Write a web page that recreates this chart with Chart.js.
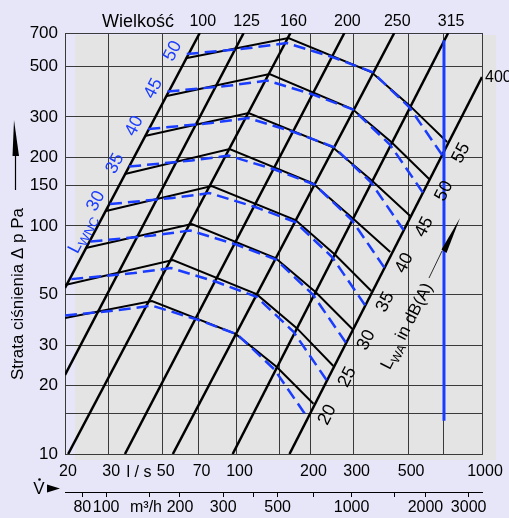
<!DOCTYPE html>
<html>
<head>
<meta charset="utf-8">
<script src="https://cdn.jsdelivr.net/npm/chart.js@4.4.1/dist/chart.umd.min.js"></script>
<style>
  html, body { margin: 0; padding: 0; background: #e6e6f8; }
  canvas { display: block; }
</style>
</head>
<body>
<canvas id="nomogram" width="509" height="518"></canvas>
<script>
// duct sizes ("Wielkość"): straight pressure-loss lines, [V in l/s, Δp in Pa]
const sizeLabels = ["100", "125", "160", "200", "250", "315", "400"];
const size100 = [[20, 53.4], [70.8, 700]];
const size125 = [[20, 22.2], [106.9, 700]];
const size160 = [[20.6, 10], [165.8, 700]];
const size200 = [[35.1, 10], [275, 700]];
const size250 = [[55, 10], [439, 700]];
const size315 = [[96.4, 10], [728, 700]];
const size400 = [[164.3, 10], [1000, 449]];
const sizeLines = [size100, size125, size160, size200, size250, size315, size400];

// sound power L_WA in dB(A) (black solid)
const lwaLevels = ["55", "50", "45", "40", "35", "30", "25", "20"];
const lwa55 = [[62.1, 543], [162.8, 665], [354, 472], [505, 338], [721, 233]];
const lwa50 = [[52.0, 370.5], [136.3, 462.6], [296.4, 324.9], [427, 233], [614.8, 158.7]];
const lwa45 = [[42.3, 247.5], [112, 312], [245.8, 221.5], [357.4, 157.2], [510, 110.4]];
const lwa40 = [[35.1, 168.6], [93.7, 217], [203.8, 154], [296.4, 108.2], [423, 76.8]];
const lwa35 = [[29.4, 116.1], [79.2, 149.4], [173.8, 106], [252.8, 74.5], [354, 51.8]];
const lwa30 = [[24.3, 79.9], [65.7, 101.8], [144.1, 72.2], [209.7, 51.3], [296.4, 35.3]];
const lwa25 = [[20, 55], [55, 70.8], [120.6, 50.2], [175.5, 35.7], [248, 24.3]];
const lwa20 = [[20, 39.4], [45.2, 46.8], [99.1, 33.6], [145.5, 24.1], [205.7, 16.6]];
const lwaCurves = [lwa55, lwa50, lwa45, lwa40, lwa35, lwa30, lwa25, lwa20];

// L_WNC (blue dashed), only the top five are labelled
const lwncLabels = ["50", "45", "40", "35", "30"];
const lwnc50 = [[62.7, 565.8], [113, 601.4], [159.8, 632.4], [245.8, 549], [357.4, 472], [505, 331.6], [688, 204.3]];
const lwnc45 = [[52.3, 387.6], [94.3, 412], [133.4, 433.2], [205.1, 376.1], [298.3, 323.3], [421.5, 227.1], [574.2, 139.9]];
const lwnc40 = [[43.7, 265.5], [78.7, 282.2], [111.3, 296.7], [171.2, 257.6], [249, 221.5], [351.8, 155.6], [479.2, 95.8]];
const lwnc35 = [[36.5, 181.9], [65.7, 193.3], [92.9, 203.2], [142.9, 176.5], [207.8, 151.7], [293.6, 106.6], [400, 65.6]];
const lwnc30 = [[30.5, 124.6], [54.8, 132.4], [77.5, 139.2], [119.3, 120.9], [173.4, 103.9], [245, 73], [333.8, 44.9]];
const lwnc25 = [[25.4, 85.3], [45.7, 90.7], [64.7, 95.4], [99.6, 82.8], [144.7, 71.2], [204.5, 50], [278.6, 30.8]];
const lwnc20 = [[21.2, 58.4], [38.2, 62.1], [54, 65.3], [83.1, 56.7], [120.8, 48.8], [170.7, 34.3], [232.5, 21.1]];
const lwnc15 = [[20, 40.5], [31.9, 42.5], [45.1, 44.7], [69.4, 38.8], [100.8, 33.4], [142.5, 23.5], [194, 14.5]];
const lwncCurves = [lwnc50, lwnc45, lwnc40, lwnc35, lwnc30, lwnc25, lwnc20, lwnc15];

// blue marker line at 700 l/s
const markerLine = [[700, 14], [700, 650]];

// axes
const flowTicks = [20, 30, 50, 70, 100, 150, 200, 300, 500, 700, 1000];
const flowLabels = [20, 30, 50, 70, 100, 200, 300, 500, 1000];
const pressureTicks = [10, 15, 20, 30, 50, 100, 150, 200, 300, 500, 700];
const pressureLabels = [10, 20, 30, 50, 100, 150, 200, 300, 500, 700];
const m3hTicks = [80, 100, 150, 200, 300, 400, 500, 700, 1000, 1500, 2000, 3000];
const m3hLabels = [80, 100, 200, 300, 500, 1000, 2000, 3000];

const BLUE = "#1a3cff";
const FONT = "Liberation Sans, Arial, sans-serif";
const ANGLE = -63;

const toPts = arr => arr.map(([x, y]) => ({ x, y }));
const line = (pts, color, width, dash) => ({
  data: toPts(pts), borderColor: color, borderWidth: width, borderDash: dash || [],
  showLine: true, pointRadius: 0, tension: 0, fill: false
});

const datasets = [line(markerLine, BLUE, 3)];
lwncCurves.forEach(c => datasets.push(line(c, BLUE, 2.5, [12, 6])));
lwaCurves.forEach(c => datasets.push(line(c, "#000", 2)));
sizeLines.forEach(c => datasets.push(line(c, "#000", 2.5)));

function rotText(ctx, text, x, y, font, color) {
  ctx.save();
  ctx.translate(x, y);
  ctx.rotate(ANGLE * Math.PI / 180);
  ctx.font = font; ctx.fillStyle = color;
  ctx.textAlign = "center"; ctx.textBaseline = "middle";
  ctx.fillText(text, 0, 0);
  ctx.restore();
}

// rotated text built from parts: [text, font, baseline offset]
function rotParts(ctx, parts, x, y, color) {
  ctx.save();
  ctx.translate(x, y);
  ctx.rotate(ANGLE * Math.PI / 180);
  ctx.fillStyle = color; ctx.textAlign = "left"; ctx.textBaseline = "alphabetic";
  let w = 0;
  parts.forEach(p => { ctx.font = p[1]; w += ctx.measureText(p[0]).width; });
  let cx = -w / 2;
  parts.forEach(p => { ctx.font = p[1]; ctx.fillText(p[0], cx, p[2]); cx += ctx.measureText(p[0]).width; });
  ctx.restore();
}

const decor = {
  id: "decor",
  beforeDraw(chart) {
    const ctx = chart.ctx;
    ctx.save();
    ctx.fillStyle = "#e6e6f8";
    ctx.fillRect(0, 0, chart.width, chart.height);
    const a = chart.chartArea;
    ctx.fillStyle = "#e4e4e4";
    ctx.fillRect(a.left + 10, a.top + 2, a.right - a.left + 4, a.bottom - a.top + 4);
    ctx.restore();
  },
  afterDraw(chart) {
    const ctx = chart.ctx;
    const xs = chart.scales.x, ys = chart.scales.y;
    const px = v => xs.getPixelForValue(v), py = v => ys.getPixelForValue(v);
    ctx.save();
    ctx.fillStyle = "#000";

    // top: sizes
    ctx.font = "18px " + FONT;
    ctx.textAlign = "center"; ctx.textBaseline = "alphabetic";
    ctx.fillText("Wielkość", 138, 27);
    ctx.font = "16px " + FONT;
    for (let i = 0; i < 6; i++) ctx.fillText(sizeLabels[i], px(sizeLines[i][1][0]) + 3, 26);
    ctx.textAlign = "left"; ctx.textBaseline = "middle";
    ctx.fillText(sizeLabels[6], px(1000) + 3, py(size400[1][1]) + 1);

    // L_WA labels at curve ends
    lwaCurves.forEach((c, i) => {
      const e = c[c.length - 1];
      rotText(ctx, lwaLevels[i], px(e[0]) + 14, py(e[1]) + 11, "18px " + FONT, "#000");
    });
    // L_WNC labels at curve starts
    lwncLabels.forEach((t, i) => {
      const s = lwncCurves[i][0];
      rotText(ctx, t, px(s[0]) - 14, py(s[1]) - 3, "18px " + FONT, BLUE);
    });
    const s25 = lwnc25[0];
    rotParts(ctx, [["L", "18px " + FONT, 6], ["WNC", "13px " + FONT, 10]], px(s25[0]) - 9, py(s25[1]) - 8, BLUE);

    // L_WA in dB(A) title with pointer
    rotParts(ctx, [["L", "17px " + FONT, 6], ["WA", "12px " + FONT, 10], [" in dB(A)", "17px " + FONT, 6]], px(490), py(36.5), "#000");
    ctx.strokeStyle = "#000"; ctx.lineWidth = 0.8;
    ctx.beginPath(); ctx.moveTo(429, 278); ctx.lineTo(442, 251); ctx.stroke();
    ctx.beginPath();
    ctx.moveTo(460, 218); ctx.lineTo(441.5, 249.5); ctx.lineTo(446.5, 253); ctx.closePath(); ctx.fill();

    // y title
    ctx.save();
    ctx.translate(23, 294); ctx.rotate(-Math.PI / 2);
    ctx.font = "17px " + FONT; ctx.textAlign = "center"; ctx.textBaseline = "alphabetic";
    ctx.fillText("Strata ciśnienia Δ p Pa", 0, 0);
    ctx.restore();
    ctx.lineWidth = 1.2;
    ctx.beginPath(); ctx.moveTo(15.5, 190); ctx.lineTo(15.5, 150); ctx.stroke();
    ctx.beginPath(); ctx.moveTo(14, 120); ctx.lineTo(12.5, 156); ctx.lineTo(19, 156); ctx.closePath(); ctx.fill();

    // bottom units
    ctx.font = "16px " + FONT; ctx.textAlign = "center"; ctx.textBaseline = "middle";
    ctx.fillText("l / s", 139, 472.5);
    ctx.fillText("m³/h", 146, 508);
    ctx.font = "17px " + FONT;
    ctx.fillText("V", 39, 489);
    ctx.beginPath(); ctx.arc(39.5, 479.5, 1.3, 0, 2 * Math.PI); ctx.fill();
    ctx.beginPath(); ctx.moveTo(47, 484.5); ctx.lineTo(47, 492.5); ctx.lineTo(60, 488.5); ctx.closePath(); ctx.fill();
    ctx.restore();
  }
};

const tickFont = { family: FONT, size: 16 };

new Chart(document.getElementById("nomogram").getContext("2d"), {
  type: "scatter",
  data: { datasets },
  options: {
    responsive: false,
    animation: false,
    devicePixelRatio: 1,
    layout: { padding: { top: 33, right: 27, left: 0, bottom: 0 } },
    plugins: { legend: { display: false }, tooltip: { enabled: false } },
    scales: {
      x: {
        type: "logarithmic", position: "bottom", min: 20, max: 1000, weight: 0,
        afterBuildTicks: s => { s.ticks = flowTicks.map(v => ({ value: v })); },
        afterFit: s => { s.height = 38; },
        ticks: { callback: v => flowLabels.includes(v) ? String(v) : "", padding: 8, labelOffset: 3, maxRotation: 0, autoSkip: false, font: tickFont, color: "#000" },
        grid: { color: "#3a3a3a", lineWidth: 1, drawTicks: false },
        border: { color: "#3a3a3a" }
      },
      m3h: {
        type: "logarithmic", position: "bottom", min: 68, max: 3400, weight: 1,
        afterBuildTicks: s => { s.ticks = m3hTicks.map(v => ({ value: v })); },
        afterFit: s => { s.height = 26; },
        ticks: { callback: v => m3hLabels.includes(v) ? String(v) : "", padding: 1, maxRotation: 0, autoSkip: false, font: tickFont, color: "#000" },
        grid: { drawOnChartArea: false, drawTicks: true, tickLength: 5, color: "#000" },
        border: { color: "#000" }
      },
      y: {
        type: "logarithmic", position: "left", min: 10, max: 700,
        afterBuildTicks: s => { s.ticks = pressureTicks.map(v => ({ value: v })); },
        afterFit: s => { s.width = 65; },
        ticks: { callback: v => pressureLabels.includes(v) ? String(v) : "", padding: 7, autoSkip: false, font: { family: FONT, size: 17 }, color: "#000" },
        grid: { color: "#3a3a3a", lineWidth: 1, drawTicks: false },
        border: { color: "#3a3a3a" }
      }
    }
  },
  plugins: [decor]
});
</script>
</body>
</html>
